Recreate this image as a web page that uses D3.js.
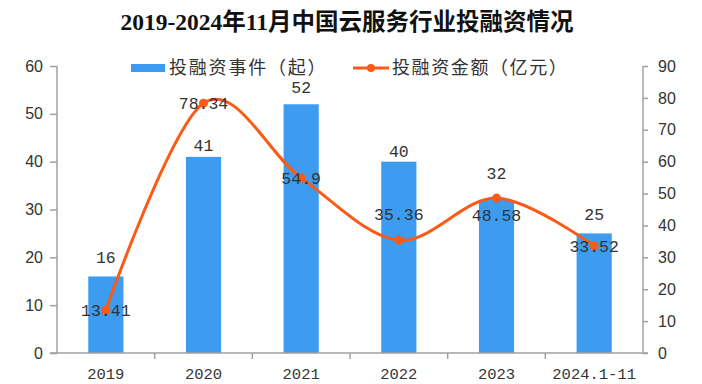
<!DOCTYPE html>
<html>
<head>
<meta charset="utf-8">
<script src="https://cdn.jsdelivr.net/npm/d3@7"></script>
<style>
  body { margin: 0; background: #fff; }
</style>
</head>
<body>
<svg width="702" height="384"></svg>
<script>
// data
var years = ["2019", "2020", "2021", "2022", "2023", "2024.1-11"];
var eventCounts = [16, 41, 52, 40, 32, 25];      // 投融资事件（起）
var amounts = [13.41, 78.34, 54.9, 35.36, 48.58, 33.52]; // 投融资金额（亿元）
var leftTicks = [0, 10, 20, 30, 40, 50, 60];
var rightTicks = [0, 10, 20, 30, 40, 50, 60, 70, 80, 90];

// label nudges (px), like the excel chart moved them
var barLabelDy = [-19, -12, -17, -10, -27, -19];
var lineLabelDy = [0, 0, 0, -26, 17, 0];

var svg = d3.select("svg");
var pLeft = 57, pRight = 643, pTop = 66, pBottom = 353;
var blue = "#3d9cf0", orange = "#fb5a17", axisCol = "#a0a0a0", txt = "#333";

var x = d3.scaleBand().domain(years).range([pLeft, pRight]).paddingInner(0.64).paddingOuter(0.32);
var yL = d3.scaleLinear().domain([0, 60]).range([pBottom, pTop]);
var yR = d3.scaleLinear().domain([0, 90]).range([pBottom, pTop]);
var cx = function(i) { return x(years[i]) + x.bandwidth() / 2; };

// title
svg.append("text")
   .attr("x", 347).attr("y", 30)
   .attr("text-anchor", "middle")
   .style("font-family", "'Liberation Serif', 'Noto Sans CJK SC'")
   .style("font-weight", "bold")
   .style("font-size", "23.5px")
   .attr("fill", "#111")
   .text("2019-2024年11月中国云服务行业投融资情况");

// bars
svg.selectAll("rect.bar")
   .data(eventCounts)
   .enter().append("rect")
   .attr("class", "bar")
   .attr("x", function(d, i) { return x(years[i]); })
   .attr("y", function(d) { return yL(d); })
   .attr("width", x.bandwidth())
   .attr("height", function(d) { return pBottom - yL(d); })
   .attr("fill", blue);

// axes
var axL = d3.axisLeft(yL).tickValues(leftTicks).tickSize(7).tickPadding(7);
var axR = d3.axisRight(yR).tickValues(rightTicks).tickSize(5).tickPadding(10);

var gL = svg.append("g").attr("transform", "translate(" + pLeft + ",0)").call(axL);
var gR = svg.append("g").attr("transform", "translate(" + pRight + ",0)").call(axR);
[gL, gR].forEach(function(g) {
  g.select(".domain").attr("stroke", axisCol).attr("stroke-width", 1.5).attr("d", "M0," + pTop + "V" + pBottom);
  g.selectAll(".tick line").attr("stroke", axisCol).attr("stroke-width", 1.5);
  g.selectAll(".tick text")
   .style("font-family", "'Liberation Sans', Arial, sans-serif")
   .style("font-size", "16px")
   .attr("fill", txt);
});

// x axis
svg.append("line")
   .attr("x1", pLeft - 7).attr("x2", pRight + 5)
   .attr("y1", pBottom).attr("y2", pBottom)
   .attr("stroke", axisCol).attr("stroke-width", 1.5);

var bounds = d3.range(1, years.length).map(function(i) { return pLeft + i * x.step(); });
svg.selectAll("line.xtick")
   .data(bounds)
   .enter().append("line")
   .attr("class", "xtick")
   .attr("x1", function(d) { return d; }).attr("x2", function(d) { return d; })
   .attr("y1", pBottom).attr("y2", pBottom + 6)
   .attr("stroke", axisCol).attr("stroke-width", 1.5);

svg.selectAll("text.xlab")
   .data(years)
   .enter().append("text")
   .attr("class", "xlab")
   .attr("x", function(d, i) { return cx(i); })
   .attr("y", 379)
   .attr("text-anchor", "middle")
   .style("font-family", "'Liberation Mono', monospace")
   .style("font-size", "15.5px")
   .attr("fill", txt)
   .text(function(d) { return d; });

// line (excel style smoothing)
var line = d3.line()
   .x(function(d, i) { return cx(i); })
   .y(function(d) { return yR(d); })
   .curve(d3.curveCardinal.tension(0));

svg.append("path")
   .datum(amounts)
   .attr("d", line)
   .attr("fill", "none")
   .attr("stroke", orange)
   .attr("stroke-width", 3);

svg.selectAll("circle.pt")
   .data(amounts)
   .enter().append("circle")
   .attr("class", "pt")
   .attr("cx", function(d, i) { return cx(i); })
   .attr("cy", function(d) { return yR(d); })
   .attr("r", 4.5)
   .attr("fill", orange);

// bar labels
svg.selectAll("text.barlab")
   .data(eventCounts)
   .enter().append("text")
   .attr("class", "barlab")
   .attr("x", function(d, i) { return cx(i); })
   .attr("y", function(d, i) { return yL(d) + barLabelDy[i]; })
   .attr("dy", "0.35em")
   .attr("text-anchor", "middle")
   .style("font-family", "'Liberation Mono', monospace")
   .style("font-size", "16.5px")
   .attr("fill", txt)
   .text(function(d) { return d; });

// line labels
svg.selectAll("text.linelab")
   .data(amounts)
   .enter().append("text")
   .attr("class", "linelab")
   .attr("x", function(d, i) { return cx(i); })
   .attr("y", function(d, i) { return yR(d) + lineLabelDy[i]; })
   .attr("dy", "0.35em")
   .attr("text-anchor", "middle")
   .style("font-family", "'Liberation Mono', monospace")
   .style("font-size", "16.5px")
   .attr("fill", txt)
   .text(function(d) { return d; });

// legend
var lg = svg.append("g");
lg.append("rect").attr("x", 131).attr("y", 64).attr("width", 34).attr("height", 8).attr("fill", blue);
lg.append("text").attr("x", 169).attr("y", 74)
  .style("font-family", "'Noto Sans CJK SC'").style("font-size", "18px")
  .style("letter-spacing", "1.8px").attr("fill", txt)
  .text("投融资事件（起）");
lg.append("line").attr("x1", 353).attr("x2", 389).attr("y1", 68).attr("y2", 68)
  .attr("stroke", orange).attr("stroke-width", 3);
lg.append("circle").attr("cx", 371).attr("cy", 68).attr("r", 4).attr("fill", orange);
lg.append("text").attr("x", 392).attr("y", 74)
  .style("font-family", "'Noto Sans CJK SC'").style("font-size", "18px")
  .style("letter-spacing", "1.6px").attr("fill", txt)
  .text("投融资金额（亿元）");
</script>
</body>
</html>
